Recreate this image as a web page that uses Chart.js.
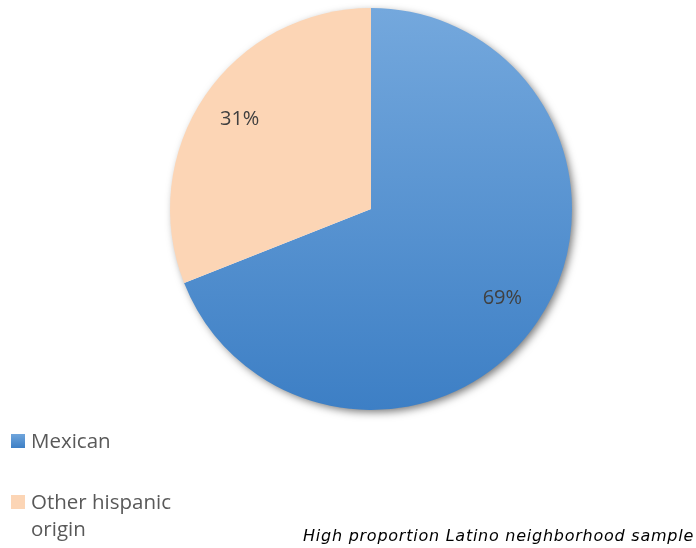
<!doctype html>
<html>
<head>
    <title>Pie</title>
    <script src="https://cdn.jsdelivr.net/npm/chart.js@4.4.0/dist/chart.umd.min.js"></script>
    <style>
        body { margin:0; background:#fff; }
        #wrap { position:relative; width:696px; height:548px; }
    </style>
</head>
<body>
    <div id="wrap">
        <canvas id="canvas" width="696" height="548"></canvas>
    </div>
    <script>
        var labels = ['Mexican', 'Other hispanic origin'];
        var legendLines = [['Mexican'], ['Other hispanic', 'origin']];
        var values = [69, 31];
        var caption = 'High proportion Latino neighborhood sample';

        function sliceFill(context) {
            if (context.dataIndex === 1) return '#FCD5B5';
            var area = context.chart.chartArea;
            if (!area) return '#4A8DD2';
            var g = context.chart.ctx.createLinearGradient(0, area.top, 0, area.bottom);
            g.addColorStop(0, '#74A8DD');
            g.addColorStop(1, '#3D7FC5');
            return g;
        }

        // soft shadow under the whole pie
        var shadowPlugin = {
            id: 'shadow',
            beforeDatasetsDraw: function(chart) {
                var arc = chart.getDatasetMeta(0).data[0];
                var ctx = chart.ctx;
                ctx.save();
                ctx.shadowColor = 'rgba(0,0,0,0.55)';
                ctx.shadowBlur = 8;
                ctx.shadowOffsetX = 3;
                ctx.shadowOffsetY = 3;
                ctx.fillStyle = '#fff';
                ctx.beginPath();
                ctx.arc(arc.x, arc.y, arc.outerRadius - 1, 0, Math.PI * 2);
                ctx.fill();
                ctx.restore();
            }
        };

        var textPlugin = {
            id: 'texts',
            afterDraw: function(chart) {
                var ctx = chart.ctx;
                var meta = chart.getDatasetMeta(0);
                ctx.save();
                // percent labels
                ctx.font = '20px "Open Sans"';
                ctx.fillStyle = '#404040';
                ctx.textAlign = 'center';
                ctx.textBaseline = 'middle';
                meta.data.forEach(function(arc, i) {
                    var mid = (arc.startAngle + arc.endAngle) / 2;
                    var r = arc.outerRadius * 0.79;
                    ctx.fillText(values[i] + '%', arc.x + Math.cos(mid) * r, arc.y + Math.sin(mid) * r);
                });
                // legend
                var tops = [434, 495];
                ctx.textAlign = 'left';
                ctx.textBaseline = 'alphabetic';
                ctx.font = '20.5px "Open Sans"';
                legendLines.forEach(function(lines, i) {
                    var g = ctx.createLinearGradient(0, tops[i], 0, tops[i] + 14);
                    if (i === 0) { g.addColorStop(0, '#6FA5DC'); g.addColorStop(1, '#3D7FC5'); }
                    else { g.addColorStop(0, '#FCD5B5'); g.addColorStop(1, '#FCD5B5'); }
                    ctx.fillStyle = g;
                    ctx.fillRect(11, tops[i], 14, 14);
                    ctx.fillStyle = '#595959';
                    lines.forEach(function(t, j) {
                        ctx.fillText(t, 31, tops[i] + 14 + j * 27);
                    });
                });
                // caption
                ctx.font = 'italic 16px "DejaVu Sans"';
                ctx.letterSpacing = '0.75px';
                ctx.fillStyle = '#000';
                ctx.textAlign = 'right';
                ctx.fillText(caption, 694, 541);
                ctx.restore();
            }
        };

        window.onload = function() {
            var ctx = document.getElementById('canvas').getContext('2d');
            window.myPie = new Chart(ctx, {
                type: 'pie',
                data: {
                    labels: labels,
                    datasets: [{
                        data: values,
                        backgroundColor: sliceFill,
                        borderWidth: 0
                    }]
                },
                options: {
                    responsive: false,
                    animation: false,
                    layout: { padding: { left: 170, right: 124, top: 8, bottom: 138 } },
                    plugins: {
                        legend: { display: false },
                        tooltip: { enabled: false }
                    }
                },
                plugins: [shadowPlugin, textPlugin]
            });
        };
    </script>
</body>
</html>
